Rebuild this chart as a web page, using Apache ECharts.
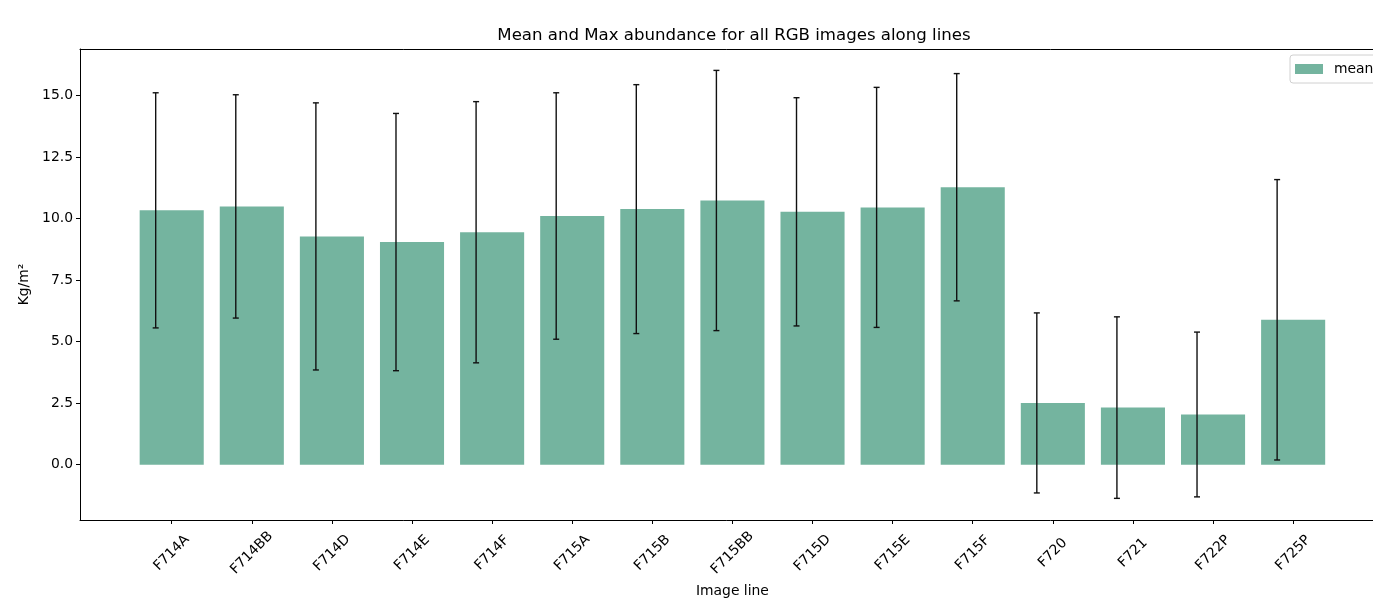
<!DOCTYPE html>
<html>
<head>
<meta charset="utf-8">
<script src="https://cdn.jsdelivr.net/npm/echarts@6/dist/echarts.min.js"></script>
<style>
  html, body { margin: 0; padding: 0; background: #fff; }
  #chart { width: 1373px; height: 599px; }
</style>
</head>
<body>
<div id="chart"></div>
<script>
// Image lines and their abundance statistics (Kg/m²)
const categories = ['F714A', 'F714BB', 'F714D', 'F714E', 'F714F', 'F715A', 'F715B', 'F715BB',
                    'F715D', 'F715E', 'F715F', 'F720', 'F721', 'F722P', 'F725P'];
const meanValues = [10.34, 10.50, 9.28, 9.05, 9.45, 10.11, 10.39, 10.74,
                    10.28, 10.46, 11.28, 2.51, 2.32, 2.04, 5.89];
const stdValues  = [4.78, 4.54, 5.43, 5.23, 5.31, 5.01, 5.06, 5.29,
                    4.64, 4.88, 4.62, 3.66, 3.69, 3.35, 5.70];
const yTicks = [0, 2.5, 5, 7.5, 10, 12.5, 15];

const FONT = 'DejaVu Sans';
const BAR_COLOR = '#74b49f';
const Y_MIN = -2.25, Y_MAX = 16.9;
// error bars sit a fifth of a category to the left of the bar centre
const ERR_SHIFT = 0.2;

const chart = echarts.init(document.getElementById('chart'), null, { renderer: 'canvas' });

const errorData = categories.map((c, i) => [i, meanValues[i] - stdValues[i], meanValues[i] + stdValues[i]]);

const option = {
  backgroundColor: '#ffffff',
  animation: false,
  title: {
    text: 'Mean and Max abundance for all RGB images along lines',
    left: 729, top: 22, textAlign: 'center',
    textStyle: { fontFamily: FONT, fontSize: 16.6, fontWeight: 'normal', color: '#000' }
  },
  legend: {
    data: [{ name: 'mean', icon: 'rect' }],
    left: 1290, top: 55,
    orient: 'vertical',
    itemWidth: 28, itemHeight: 10, itemGap: 6,
    padding: [7, 10, 7, 5],
    borderColor: '#d0d0d0', borderWidth: 1, borderRadius: 3,
    backgroundColor: '#fff',
    textStyle: { fontFamily: FONT, fontSize: 13.9, color: '#000', padding: [0, 0, 0, 6] }
  },
  grid: [
    // frame of the plotting area
    { left: 80, right: -11, top: 49, bottom: 79, outerBoundsMode: 'none', containLabel: false },
    // band for the bars
    { left: 131.65, right: 39.8, top: 49, bottom: 79, outerBoundsMode: 'none', containLabel: false }
  ],
  xAxis: [
    {
      gridIndex: 0, type: 'value', position: 'bottom', min: -1.14, max: 15.14,
      axisLine: { show: true, onZero: false, lineStyle: { color: '#000', width: 1 } },
      axisTick: { show: false }, axisLabel: { show: false }, splitLine: { show: false }
    },
    {
      gridIndex: 0, type: 'value', position: 'top', min: -1.14, max: 15.14,
      axisLine: { show: true, onZero: false, lineStyle: { color: '#000', width: 1 } },
      axisTick: { show: false }, axisLabel: { show: false }, splitLine: { show: false }
    },
    {
      gridIndex: 1, type: 'category', data: categories, boundaryGap: true, position: 'bottom',
      axisLine: { show: false, onZero: false },
      axisTick: { show: true, alignWithLabel: true, length: 4, lineStyle: { color: '#000' } },
      axisLabel: {
        rotate: 45, align: 'center', verticalAlign: 'middle', margin: 33,
        fontFamily: FONT, fontSize: 13.9, color: '#000'
      },
      name: 'Image line', nameLocation: 'middle', nameGap: 64,
      nameTextStyle: { fontFamily: FONT, fontSize: 13.9, color: '#000' },
      splitLine: { show: false }
    }
  ],
  yAxis: [
    {
      gridIndex: 0, type: 'value', position: 'left', min: Y_MIN, max: Y_MAX,
      axisLine: { show: true, onZero: false, lineStyle: { color: '#000', width: 1 } },
      axisTick: { show: true, length: 4, customValues: yTicks, lineStyle: { color: '#000' } },
      axisLabel: {
        customValues: yTicks, margin: 7,
        formatter: v => v.toFixed(1),
        fontFamily: FONT, fontSize: 13.9, color: '#000'
      },
      splitLine: { show: false },
      name: 'Kg/m²', nameLocation: 'middle', nameGap: 44, nameRotate: 90,
      nameTextStyle: { fontFamily: FONT, fontSize: 13.9, color: '#000' }
    },
    {
      gridIndex: 0, type: 'value', position: 'right', min: Y_MIN, max: Y_MAX,
      axisLine: { show: true, onZero: false, lineStyle: { color: '#000', width: 1 } },
      axisTick: { show: false }, axisLabel: { show: false }, splitLine: { show: false }
    },
    {
      gridIndex: 1, type: 'value', min: Y_MIN, max: Y_MAX, show: false,
      splitLine: { show: false }
    }
  ],
  series: [
    {
      name: 'mean', type: 'bar',
      xAxisIndex: 2, yAxisIndex: 2,
      data: meanValues,
      barWidth: '80%',
      itemStyle: { color: BAR_COLOR },
      z: 2
    },
    {
      name: 'std', type: 'custom',
      xAxisIndex: 2, yAxisIndex: 2,
      data: errorData,
      z: 5,
      renderItem: function (params, api) {
        const x = api.value(0);
        const band = api.size([1, 0])[0];
        const lo = api.coord([x, api.value(1)]);
        const hi = api.coord([x, api.value(2)]);
        const cx = lo[0] - band * ERR_SHIFT;
        const cap = 3;
        const style = { stroke: '#111', lineWidth: 1.4 };
        return {
          type: 'group',
          children: [
            { type: 'line', shape: { x1: cx, y1: lo[1], x2: cx, y2: hi[1] }, style },
            { type: 'line', shape: { x1: cx - cap, y1: hi[1], x2: cx + cap, y2: hi[1] }, style },
            { type: 'line', shape: { x1: cx - cap, y1: lo[1], x2: cx + cap, y2: lo[1] }, style }
          ]
        };
      }
    }
  ]
};

chart.setOption(option);
</script>
</body>
</html>
